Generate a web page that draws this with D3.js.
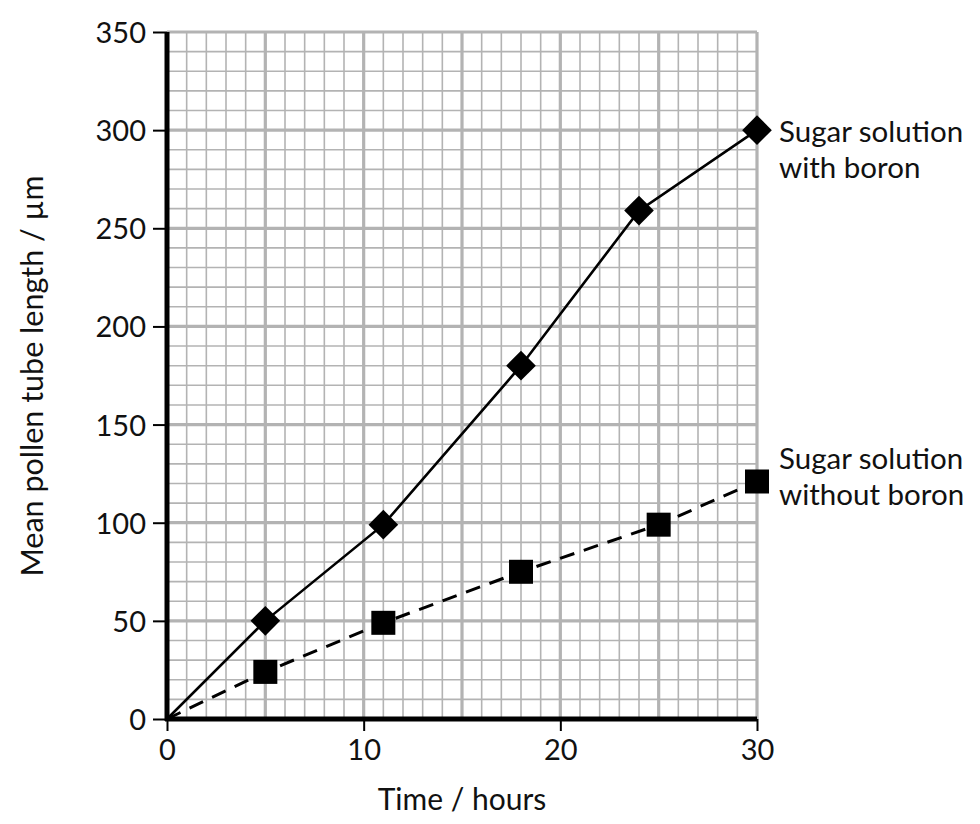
<!DOCTYPE html>
<html>
<head>
<meta charset="utf-8">
<script src="https://cdn.jsdelivr.net/npm/d3@7"></script>
<style>
  body { margin: 0; background: #fff; }
  text { font-family: Lato, "Open Sans", sans-serif; fill: #111; }
</style>
</head>
<body>
<svg id="chart" width="980" height="824"></svg>
<script>
// data
let hours = [0, 5, 11, 18, 24, 30];
let withBoron = [0, 50, 99, 180, 259, 300];
let hoursNoBoron = [0, 5, 11, 18, 25, 30];
let withoutBoron = [0, 24, 49, 75, 99, 121];
let xTicks = [0, 10, 20, 30];
let yTicks = [0, 50, 100, 150, 200, 250, 300, 350];

let svg = d3.select("#chart");

let x = d3.scaleLinear().domain([0, 30]).range([167, 757]);
let y = d3.scaleLinear().domain([0, 350]).range([719, 32]);

// graph paper
let grid = svg.append("g");
grid.selectAll("line.vx")
  .data(d3.range(0, 31))
  .enter().append("line")
    .attr("x1", d => x(d)).attr("x2", d => x(d))
    .attr("y1", y(0)).attr("y2", y(350))
    .attr("stroke", "#b3b3b3")
    .attr("stroke-width", d => d % 5 == 0 ? 3.2 : 1.6);
grid.selectAll("line.hy")
  .data(d3.range(0, 351, 10))
  .enter().append("line")
    .attr("y1", d => y(d)).attr("y2", d => y(d))
    .attr("x1", x(0)).attr("x2", x(30))
    .attr("stroke", "#b3b3b3")
    .attr("stroke-width", d => d % 50 == 0 ? 3.2 : 1.6);

// axes
let yAxis = d3.axisLeft(y).tickValues(yTicks).tickSize(14).tickPadding(7);
let gy = svg.append("g").attr("transform", "translate(" + x(0) + ",0)").call(yAxis);
gy.select(".domain").remove();
gy.selectAll(".tick line").attr("stroke", "#000").attr("stroke-width", 2);
gy.selectAll(".tick text").attr("font-size", 29).attr("dy", "0.36em");

let xAxis = d3.axisBottom(x).tickValues(xTicks).tickSize(12).tickPadding(4);
let gx = svg.append("g").attr("transform", "translate(0," + y(0) + ")").call(xAxis);
gx.select(".domain").remove();
gx.selectAll(".tick line").attr("stroke", "#000").attr("stroke-width", 2);
gx.selectAll(".tick text").attr("font-size", 29).attr("dy", "0.85em");

svg.append("line")
  .attr("x1", x(0)).attr("x2", x(0))
  .attr("y1", y(0) + 2).attr("y2", y(350))
  .attr("stroke", "#000").attr("stroke-width", 5);
svg.append("line")
  .attr("x1", x(0) - 2).attr("x2", x(30))
  .attr("y1", y(0)).attr("y2", y(0))
  .attr("stroke", "#000").attr("stroke-width", 5);

// series
let line = d3.line().x(d => x(d[0])).y(d => y(d[1]));
let boronPts = hours.map((h, i) => [h, withBoron[i]]);
let noBoronPts = hoursNoBoron.map((h, i) => [h, withoutBoron[i]]);

svg.append("path")
  .attr("d", line(boronPts))
  .attr("fill", "none").attr("stroke", "#000").attr("stroke-width", 2.6);
svg.append("path")
  .attr("d", line(noBoronPts))
  .attr("fill", "none").attr("stroke", "#000").attr("stroke-width", 3)
  .attr("stroke-dasharray", "15,10");

svg.selectAll("path.diamond")
  .data(boronPts.slice(1))
  .enter().append("path")
    .attr("d", d3.symbol().type(d3.symbolSquare).size(440))
    .attr("transform", d => "translate(" + x(d[0]) + "," + y(d[1]) + ") rotate(45)")
    .attr("fill", "#000");
svg.selectAll("rect.sq")
  .data(noBoronPts.slice(1))
  .enter().append("rect")
    .attr("x", d => x(d[0]) - 12).attr("y", d => y(d[1]) - 12)
    .attr("width", 24).attr("height", 24)
    .attr("fill", "#000");

// labels
let lab = (txt, px, py) => svg.append("text").attr("x", px).attr("y", py)
  .attr("font-size", 29.5).text(txt);
lab("Sugar solution", 779, 142);
lab("with boron", 779, 178);
lab("Sugar solution", 779, 469);
lab("without boron", 779, 505);

svg.append("text")
  .attr("x", 462).attr("y", 810)
  .attr("text-anchor", "middle").attr("font-size", 30)
  .text("Time / hours");
svg.append("text")
  .attr("transform", "translate(43,376) rotate(-90)")
  .attr("text-anchor", "middle").attr("font-size", 30.5)
  .text("Mean pollen tube length / µm");
</script>
</body>
</html>
